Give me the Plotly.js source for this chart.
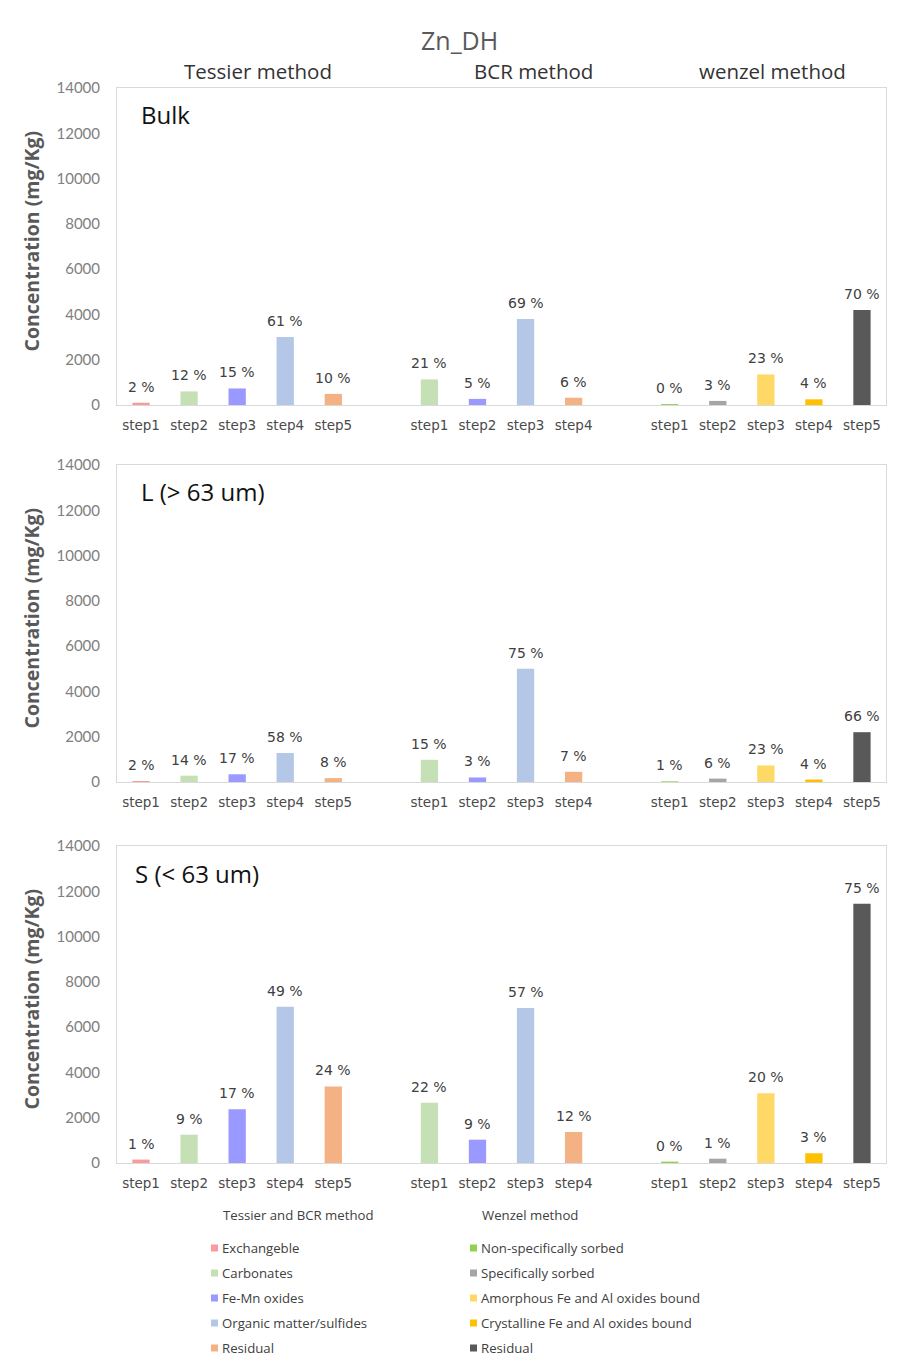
<!DOCTYPE html>
<html>
<head>
<meta charset="utf-8">
<script src="https://cdn.plot.ly/plotly-3.0.1.min.js"></script>
<style>
html,body{margin:0;padding:0;background:#fff;}
#chart{width:917px;height:1366px;}
</style>
</head>
<body>
<div id="chart"></div>
<script>
// ---------------- DATA ----------------
const chartTitle = 'Zn_DH';
const methodTitles = ['Tessier method', 'BCR method', 'wenzel method'];
const panelLabels = ['Bulk', 'L (> 63 um)', 'S (< 63 um)'];

const tessierSteps = ['step1', 'step2', 'step3', 'step4', 'step5'];
const bcrSteps = ['step1', 'step2', 'step3', 'step4'];
const wenzelSteps = ['step1', 'step2', 'step3', 'step4', 'step5'];

// concentrations (mg/Kg)
const bulkTessier = [100, 600, 730, 3000, 490];
const bulkBCR = [1130, 270, 3800, 320];
const bulkWenzel = [40, 180, 1350, 250, 4200];

const lTessier = [45, 280, 340, 1280, 170];
const lBCR = [980, 200, 5000, 450];
const lWenzel = [30, 150, 730, 110, 2200];

const sTessier = [150, 1250, 2370, 6900, 3380];
const sBCR = [2660, 1030, 6850, 1370];
const sWenzel = [60, 190, 3080, 430, 11450];

// percentage labels
const bulkTessierPct = [2, 12, 15, 61, 10];
const bulkBCRPct = [21, 5, 69, 6];
const bulkWenzelPct = [0, 3, 23, 4, 70];

const lTessierPct = [2, 14, 17, 58, 8];
const lBCRPct = [15, 3, 75, 7];
const lWenzelPct = [1, 6, 23, 4, 66];

const sTessierPct = [1, 9, 17, 49, 24];
const sBCRPct = [22, 9, 57, 12];
const sWenzelPct = [0, 1, 20, 3, 75];

// fractions / legend
const tbLegendTitle = 'Tessier and BCR method';
const wzLegendTitle = 'Wenzel method';
const tbFractions = ['Exchangeble', 'Carbonates', 'Fe-Mn oxides', 'Organic matter/sulfides', 'Residual'];
const tbColors = ['#F99A9C', '#C5E0B4', '#9999FF', '#B4C7E7', '#F4B183'];
const wzFractions = ['Non-specifically sorbed', 'Specifically sorbed', 'Amorphous Fe and Al oxides bound', 'Crystalline Fe and Al oxides bound', 'Residual'];
const wzColors = ['#92D050', '#A5A5A5', '#FFD966', '#FFC000', '#595959'];

// fraction index of each step
const tessierFrac = [0, 1, 2, 3, 4];
const bcrFrac = [1, 2, 3, 4];
const wenzelFrac = [0, 1, 2, 3, 4];

const yTicks = [0, 2000, 4000, 6000, 8000, 10000, 12000, 14000];

// --------------- BUILD ----------------
const W = 917, H = 1366;
const panels = [
  {vals: [bulkTessier, bulkBCR, bulkWenzel], pct: [bulkTessierPct, bulkBCRPct, bulkWenzelPct], top: 88, bottom: 405},
  {vals: [lTessier, lBCR, lWenzel], pct: [lTessierPct, lBCRPct, lWenzelPct], top: 465, bottom: 782},
  {vals: [sTessier, sBCR, sWenzel], pct: [sTessierPct, sBCRPct, sWenzelPct], top: 846, bottom: 1163}
];
const stepGroups = [tessierSteps, bcrSteps, wenzelSteps];
const groupColors = [
  tessierFrac.map(i => tbColors[i]),
  bcrFrac.map(i => tbColors[i]),
  wenzelFrac.map(i => wzColors[i])
];

// category positions: groups separated by one empty slot
const xPos = [];
let cursor = 0;
stepGroups.forEach(g => {
  xPos.push(g.map((_, i) => cursor + i));
  cursor += g.length + 1;
});
const lastIndex = cursor - 2;
const tickvals = [].concat(...xPos);
const ticktext = [].concat(...stepGroups);

const axisFont = {family: 'Lato, sans-serif', size: 15, color: '#808080'};
const tickFont = {family: 'DejaVu Sans, sans-serif', size: 13.5, color: '#4a4a4a'};
const labelFont = {family: 'DejaVu Sans, sans-serif', size: 14, color: '#404040'};

const traces = [];
const annotations = [];
const layout = {
  width: W, height: H,
  margin: {l: 0, r: 0, t: 0, b: 0},
  paper_bgcolor: '#fff', plot_bgcolor: '#fff',
  showlegend: false,
  barmode: 'overlay',
  font: {family: 'Open Sans, sans-serif'},
  shapes: []
};

const xl = 117 / W, xr = 886 / W;
panels.forEach((p, pi) => {
  const sfx = pi === 0 ? '' : String(pi + 1);
  const xa = 'x' + sfx, ya = 'y' + sfx;
  p.vals.forEach((vals, gi) => {
    traces.push({
      type: 'bar',
      x: xPos[gi], y: vals,
      width: 0.36,
      marker: {color: groupColors[gi], line: {width: 0}},
      xaxis: xa, yaxis: ya,
      hoverinfo: 'x+y'
    });
    vals.forEach((v, i) => {
      annotations.push({
        xref: xa, yref: ya, x: xPos[gi][i], y: v,
        text: p.pct[gi][i] + ' %', showarrow: false,
        xanchor: 'center', yanchor: 'bottom', yshift: 6, font: labelFont
      });
    });
  });
  layout['xaxis' + sfx] = {
    domain: [xl, xr], anchor: ya,
    range: [-0.5, lastIndex + 0.5],
    tickmode: 'array', tickvals: tickvals, ticktext: ticktext,
    tickfont: tickFont, ticks: '', ticklabelstandoff: 8,
    showgrid: false, zeroline: false,
    showline: true, linecolor: '#D9D9D9', linewidth: 1, mirror: true,
    fixedrange: true
  };
  layout['yaxis' + sfx] = {
    domain: [1 - p.bottom / H, 1 - p.top / H], anchor: xa,
    range: [0, 14000],
    tickmode: 'array', tickvals: yTicks, ticktext: yTicks.map(String),
    tickfont: axisFont, ticks: '', ticklabelstandoff: 13,
    showgrid: false, zeroline: false,
    showline: true, linecolor: '#D9D9D9', linewidth: 1, mirror: true,
    fixedrange: true
  };
  // y-axis title
  annotations.push({
    xref: 'paper', yref: 'paper', x: 31 / W, y: 1 - ((p.top + p.bottom) / 2 - 5) / H,
    xanchor: 'center', yanchor: 'middle',
    text: 'Concentration (mg/Kg)', textangle: -90, showarrow: false,
    font: {family: 'Open Sans, sans-serif', size: 19.5, color: '#595959', weight: 'bold'}
  });
  // panel label
  annotations.push({
    xref: 'paper', yref: 'paper', x: (pi === 2 ? 133 : 139) / W, y: 1 - (p.top + 27) / H,
    xanchor: 'left', yanchor: 'middle', text: panelLabels[pi], showarrow: false,
    font: {family: 'Open Sans, sans-serif', size: 24, color: '#111'}
  });
});

// chart title and method titles
annotations.push({
  xref: 'paper', yref: 'paper', x: 459 / W, y: 1 - 40 / H,
  xanchor: 'center', yanchor: 'middle',
  text: chartTitle, showarrow: false,
  font: {family: 'Open Sans, sans-serif', size: 25, color: '#595959'}
});
const methodX = [258, 533, 772];
methodTitles.forEach((t, i) => {
  annotations.push({
    xref: 'paper', yref: 'paper', x: methodX[i] / W, y: 1 - 71 / H,
    xanchor: 'center', yanchor: 'middle',
    text: t, showarrow: false,
    font: {family: 'Open Sans, sans-serif', size: 20.5, color: '#333'}
  });
});

// legend (two columns)
const legFont = {family: 'Open Sans, sans-serif', size: 13.2, color: '#404040'};
const legCols = [
  {title: tbLegendTitle, names: tbFractions, colors: tbColors, mx: 211},
  {title: wzLegendTitle, names: wzFractions, colors: wzColors, mx: 470}
];
legCols.forEach(c => {
  annotations.push({
    xref: 'paper', yref: 'paper', x: (c.mx + 10) / W, y: 1 - 1215 / H,
    xanchor: 'left', yanchor: 'middle', text: c.title, showarrow: false, font: legFont
  });
  c.names.forEach((n, i) => {
    const cy = 1248 + 25 * i;
    layout.shapes.push({
      type: 'rect', xref: 'paper', yref: 'paper',
      x0: c.mx / W, x1: (c.mx + 7) / W, y0: 1 - (cy + 3.5) / H, y1: 1 - (cy - 3.5) / H,
      fillcolor: c.colors[i], line: {width: 0}
    });
    annotations.push({
      xref: 'paper', yref: 'paper', x: (c.mx + 9) / W, y: 1 - cy / H,
      xanchor: 'left', yanchor: 'middle', text: n, showarrow: false, font: legFont
    });
  });
});

layout.annotations = annotations;
Plotly.newPlot('chart', traces, layout, {displayModeBar: false, staticPlot: true});
</script>
</body>
</html>
